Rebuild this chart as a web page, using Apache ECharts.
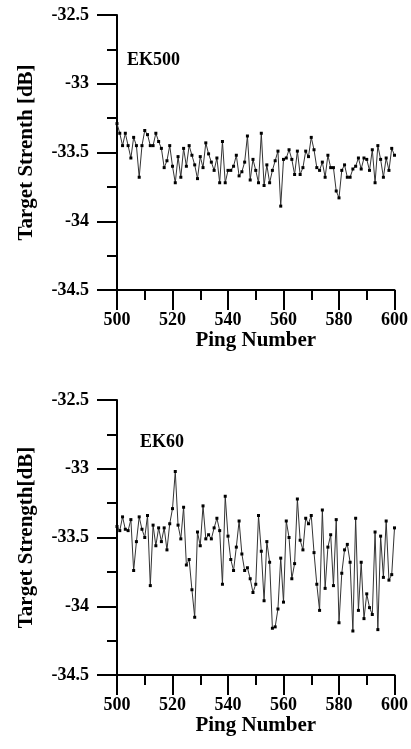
<!DOCTYPE html>
<html>
<head>
<meta charset="utf-8">
<script src="https://cdn.jsdelivr.net/npm/echarts@6/dist/echarts.min.js"></script>
<style>
  html, body { margin: 0; padding: 0; background: #fff; }
  #main { width: 411px; height: 749px; }
</style>
</head>
<body>
<div id="main"></div>
<script>
// ping numbers run from 500 to 600, one reading per ping
var firstPing = 500;

var ek500 = [-33.29, -33.36, -33.45, -33.36, -33.45, -33.54, -33.39, -33.45, -33.68, -33.45,
  -33.34, -33.37, -33.45, -33.45, -33.36, -33.42, -33.47, -33.61, -33.56, -33.45,
  -33.60, -33.72, -33.53, -33.68, -33.47, -33.60, -33.45, -33.52, -33.59, -33.69,
  -33.53, -33.61, -33.43, -33.51, -33.57, -33.63, -33.54, -33.72, -33.42, -33.72,
  -33.63, -33.63, -33.60, -33.52, -33.67, -33.64, -33.57, -33.38, -33.70, -33.55,
  -33.63, -33.72, -33.36, -33.74, -33.59, -33.72, -33.63, -33.56, -33.49, -33.89,
  -33.55, -33.54, -33.48, -33.55, -33.66, -33.49, -33.66, -33.61, -33.49, -33.53,
  -33.39, -33.48, -33.61, -33.63, -33.57, -33.68, -33.52, -33.61, -33.61, -33.78,
  -33.83, -33.63, -33.59, -33.68, -33.68, -33.62, -33.60, -33.54, -33.62, -33.54,
  -33.55, -33.63, -33.48, -33.72, -33.45, -33.55, -33.68, -33.54, -33.63, -33.47,
  -33.52];

var ek60 = [-33.42, -33.45, -33.35, -33.44, -33.45, -33.37, -33.74, -33.53, -33.35, -33.44,
  -33.50, -33.34, -33.85, -33.41, -33.56, -33.43, -33.53, -33.43, -33.59, -33.40,
  -33.29, -33.02, -33.41, -33.51, -33.28, -33.70, -33.66, -33.88, -34.08, -33.46,
  -33.56, -33.27, -33.51, -33.48, -33.51, -33.43, -33.36, -33.45, -33.84, -33.20,
  -33.49, -33.66, -33.74, -33.57, -33.38, -33.62, -33.74, -33.72, -33.80, -33.90,
  -33.84, -33.34, -33.60, -33.96, -33.53, -33.68, -34.16, -34.15, -34.02, -33.65,
  -33.97, -33.38, -33.50, -33.80, -33.69, -33.22, -33.52, -33.59, -33.36, -33.40,
  -33.34, -33.61, -33.84, -34.03, -33.30, -33.87, -33.57, -33.48, -33.85, -33.37,
  -34.12, -33.76, -33.59, -33.55, -33.68, -34.18, -33.36, -34.03, -33.68, -34.09,
  -33.91, -34.01, -34.06, -33.46, -34.17, -33.49, -33.79, -33.38, -33.81, -33.77,
  -33.43];

var panelTitles = ['EK500', 'EK60'];
var yNames = ['Target Strenth [dB]', 'Target Strength[dB]'];

function toPairs(vals) {
  return vals.map(function (v, i) { return [firstPing + i, v]; });
}

var font = "'Liberation Serif', 'Times New Roman', serif";
var tops = [15, 400];

function xAxisFor(idx) {
  return {
    type: 'value', gridIndex: idx, min: 500, max: 600, interval: 20,
    name: 'Ping Number', nameLocation: 'middle', nameGap: 29,
    nameTextStyle: { color: '#000', fontFamily: font, fontWeight: 'bold', fontSize: 21 },
    axisLine: { onZero: false, lineStyle: { color: '#000', width: 2 } },
    axisTick: { length: 20, lineStyle: { color: '#000', width: 2 } },
    minorTick: { show: true, splitNumber: 2, length: 10, lineStyle: { color: '#000', width: 2 } },
    splitLine: { show: false },
    axisLabel: { margin: 21, color: '#000', fontFamily: font, fontWeight: 'bold', fontSize: 18 }
  };
}

function yAxisFor(idx) {
  return {
    type: 'value', gridIndex: idx, min: -34.5, max: -32.5, interval: 0.5,
    name: yNames[idx], nameLocation: 'middle', nameGap: 80,
    nameTextStyle: { color: '#000', fontFamily: font, fontWeight: 'bold', fontSize: 21 },
    axisLine: { show: true, onZero: false, lineStyle: { color: '#000', width: 2 } },
    axisTick: { show: true, length: 20, lineStyle: { color: '#000', width: 2 } },
    minorTick: { show: true, splitNumber: 2, length: 10, lineStyle: { color: '#000', width: 2 } },
    splitLine: { show: false },
    axisLabel: { margin: 28, color: '#000', fontFamily: font, fontWeight: 'bold', fontSize: 18 }
  };
}

function lineSeries(idx, vals) {
  return {
    type: 'line', xAxisIndex: idx, yAxisIndex: idx,
    data: toPairs(vals),
    symbol: 'rect', symbolSize: 3, showAllSymbol: true,
    itemStyle: { color: '#000' },
    lineStyle: { color: '#333', width: 1 },
    animation: false
  };
}

var myChart = echarts.init(document.getElementById('main'));
var option = {
  backgroundColor: '#fff',
  animation: false,
  title: [
    { text: panelTitles[0], left: 122, top: 46,
      textStyle: { color: '#000', fontFamily: font, fontWeight: 'bold', fontSize: 18 } },
    { text: panelTitles[1], left: 135, top: 428,
      textStyle: { color: '#000', fontFamily: font, fontWeight: 'bold', fontSize: 18 } }
  ],
  grid: [
    { left: 117, top: tops[0], width: 278, height: 275 },
    { left: 117, top: tops[1], width: 278, height: 275 }
  ],
  xAxis: [xAxisFor(0), xAxisFor(1)],
  yAxis: [yAxisFor(0), yAxisFor(1)],
  series: [lineSeries(0, ek500), lineSeries(1, ek60)]
};
myChart.setOption(option);
</script>
</body>
</html>
